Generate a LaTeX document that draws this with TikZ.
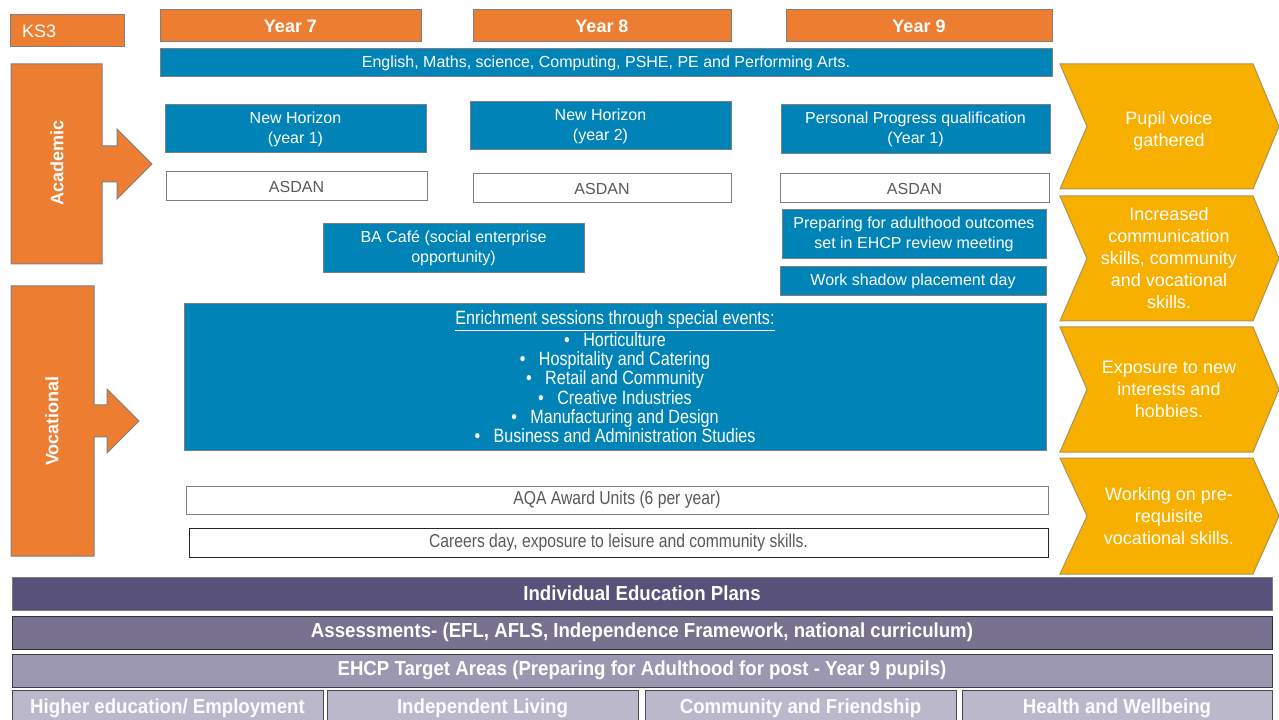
\documentclass[tikz,border=0pt]{standalone}
\usepackage{fontspec}
\setmainfont{Liberation Sans}
\newfontfamily\narrowfont[FakeStretch=0.84]{Liberation Sans}
\newfontfamily\semifont[FakeStretch=0.92]{Liberation Sans}
\usepackage{xcolor}
\usetikzlibrary{positioning}
\definecolor{ksorange}{HTML}{ED7D31}
\definecolor{ksblue}{HTML}{0084B7}
\definecolor{ksyellow}{HTML}{F8B000}
\definecolor{ksline}{HTML}{7F7F7F}
\definecolor{ksgrey}{HTML}{595959}
\definecolor{plumA}{HTML}{585179}
\definecolor{plumB}{HTML}{78728F}
\definecolor{plumC}{HTML}{9B97B0}
\definecolor{plumD}{HTML}{BCB8CC}

\begin{document}
\begin{tikzpicture}[
  x=0.75pt, y=-0.75pt,
  every node/.style={inner sep=0pt, outer sep=0pt, align=center},
  sz/.style 2 args={minimum width=#1*0.75pt, minimum height=#2*0.75pt},
  yearbox/.style={draw=ksline, fill=ksorange, text=white, line width=0.75pt,
    font=\fontsize{13.5}{16}\selectfont\bfseries},
  blu/.style={draw=ksline, fill=ksblue, text=white, line width=0.75pt,
    font=\fontsize{12}{15}\selectfont},
  wbox/.style={draw=ksline, fill=white, text=ksgrey, line width=0.75pt,
    font=\fontsize{12}{15}\selectfont},
  nbox/.style={draw=ksline, fill=white, text=ksgrey, line width=0.75pt,
    font=\narrowfont\fontsize{14}{14.5}\selectfont},
  strand/.style={draw=ksline, fill=ksorange, line width=0.75pt},
  strandlbl/.style={text=white, rotate=90, font=\fontsize{13.5}{16}\selectfont\bfseries},
  chev/.style={draw=ksline!60!ksyellow, fill=ksyellow, line width=0.75pt},
  chevlbl/.style={text=white, font=\fontsize{13.5}{16.5}\selectfont},
  plumbar/.style={draw=#1!40!black, fill=#1, line width=0.75pt, text=white,
    font=\semifont\fontsize{15.2}{17}\selectfont\bfseries},
]
\useasboundingbox (0,0) rectangle (1279,720);
\clip (0,0) rectangle (1279,720);
% key stage and years
\node[yearbox, sz={114}{32}, font=\fontsize{13.5}{16}\selectfont, text width=90*0.75pt,
  align=left, inner xsep=12*0.75pt] (ks) at (67,31) {KS3};
\node[yearbox, sz={261}{32}] (y7) at (290.5,26) {Year 7};
\node[yearbox, sz={258}{32}] (y8) at (602,26) {Year 8};
\node[yearbox, sz={266}{32}] (y9) at (919,26) {Year 9};
\node[blu, sz={892}{28}] (core) at (606,63)
  {English, Maths, science, Computing, PSHE, PE and Performing Arts.};
% academic strand
\path[strand] (11,64) -- (102,64) -- (102,146) -- (117,146) -- (117,129) -- (152,164)
  -- (117,199) -- (117,182) -- (102,182) -- (102,264) -- (11,264) -- cycle;
\node[strandlbl] (acad) at (57,163) {Academic};
\node[blu, sz={261}{48}] (nh1) at (295.5,129) {New Horizon\\(year 1)};
\node[blu, sz={261}{48}] (nh2) at (600.5,126) {New Horizon\\(year 2)};
\node[blu, sz={269}{49}] (ppq) at (915.5,129.5) {Personal Progress qualification\\(Year 1)};
\node[wbox, sz={261}{29}] (as1) at (296.5,186.5) {ASDAN};
\node[wbox, sz={258}{29}] (as2) at (602,188.5) {ASDAN};
\node[wbox, sz={269}{29}] (as3) at (914.5,188.5) {ASDAN};
\node[blu, sz={261}{49}] (cafe) at (453.5,248.5) {BA Café (social enterprise\\opportunity)};
\node[blu, sz={264}{49}] (pfa) at (914,234.5)
  {Preparing for adulthood outcomes\\set in EHCP review meeting};
\node[blu, sz={266}{29}] (shadow) at (913,281.5) {Work shadow placement day};
% vocational strand
\path[strand] (11,286) -- (94,286) -- (94,405) -- (107,405) -- (107,389) -- (139,421)
  -- (107,453) -- (107,437) -- (94,437) -- (94,556) -- (11,556) -- cycle;
\node[strandlbl] (voc) at (52,421) {Vocational};
\node[blu, sz={862}{146}, font=\narrowfont\fontsize{14.4}{14.5}\selectfont] (enrich) at (615,377)
  {\underline{Enrichment sessions through special events:}\\[-0.5pt]
   •\hspace{0.7em}Horticulture\\
   •\hspace{0.7em}Hospitality and Catering\\
   •\hspace{0.7em}Retail and Community\\
   •\hspace{0.7em}Creative Industries\\
   •\hspace{0.7em}Manufacturing and Design\\
   •\hspace{0.7em}Business and Administration Studies};
\node[nbox, sz={862}{28}] (aqa) at (617,500) {AQA Award Units (6 per year)};
\node[nbox, sz={859}{29}, draw=black!85] (careers) at (618.5,542.5)
  {Careers day, exposure to leisure and community skills.};
% outcomes
\foreach \ya/\yb/\dy/\nm/\txt in {
    64/189/4/out1/{Pupil voice\\gathered},
    196/321/0/out2/{Increased\\communication\\skills, community\\and vocational\\skills.},
    327/452/0/out3/{Exposure to new\\interests and\\hobbies.},
    458/574/0/out4/{Working on pre-\\requisite\\vocational skills.}} {
  \path[chev] (1060,\ya) -- (1253,\ya) -- (1279,{(\ya+\yb)/2}) -- (1253,\yb)
    -- (1060,\yb) -- (1087,{(\ya+\yb)/2}) -- cycle;
  \node[chevlbl] (\nm) at (1169,{(\ya+\yb)/2+\dy}) {\txt};
}
% plans and target areas
\node[plumbar=plumA, sz={1260}{33}, draw=ksline] (iep) at (642,593.5) {Individual Education Plans};
\node[plumbar=plumB, sz={1260}{33}] (assess) at (642,632.5)
  {Assessments- (EFL, AFLS, Independence Framework, national curriculum)};
\node[plumbar=plumC, sz={1260}{33}] (ehcp) at (642,670.5)
  {EHCP Target Areas (Preparing for Adulthood for post - Year 9 pupils)};
\node[plumbar=plumD, sz={311}{36}, text=white!95!plumD] (hee) at (167.5,708) {Higher education/ Employment};
\node[plumbar=plumD, sz={311}{36}, text=white!95!plumD] (indl) at (482.5,708) {Independent Living};
\node[plumbar=plumD, sz={311}{36}, text=white!95!plumD] (comm) at (800.5,708) {Community and Friendship};
\node[plumbar=plumD, sz={310}{36}, text=white!95!plumD] (hw) at (1117,708) {Health and Wellbeing};
\end{tikzpicture}
\end{document}
